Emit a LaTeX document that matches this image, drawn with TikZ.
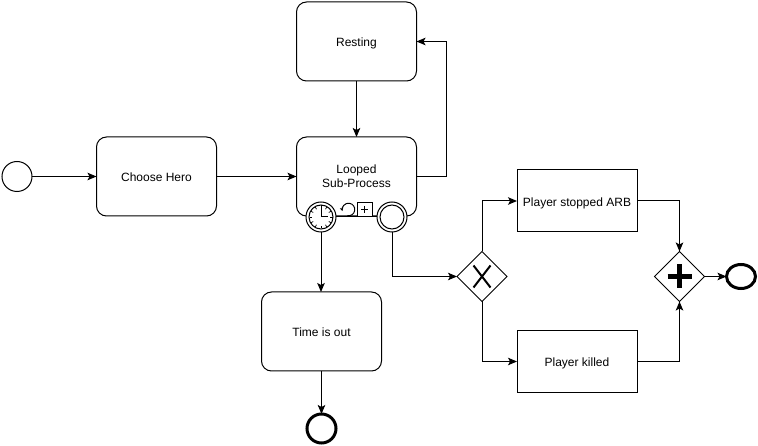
\documentclass[tikz,border=0pt]{standalone}
\usepackage{fontspec}
\setmainfont{Liberation Sans}
\usetikzlibrary{arrows.meta,shapes.geometric}
\tikzset{
  base/.style={draw=black,line width=1pt,outer sep=0pt,inner sep=0pt,fill=white},
  roundtask/.style={base,rectangle,rounded corners=10pt,minimum width=120pt,minimum height=79pt,align=center,font=\fontsize{12}{14}\selectfont},
  sharptask/.style={base,rectangle,minimum width=120pt,minimum height=62pt,align=center,font=\fontsize{12}{14}\selectfont},
  oneline/.style={text height=10.5pt,text depth=0pt},
  startev/.style={base,circle,minimum size=30pt},
  endev/.style={base,circle,line width=3pt,minimum size=29pt},
  gate/.style={base,diamond,minimum width=50pt,minimum height=50pt,aspect=1},
  attached/.style={base,circle,minimum size=30pt},
  flow/.style={draw=black,line width=1pt,-{Stealth[length=9pt,width=7.5pt,inset=2pt]}},
}
\begin{document}
\begin{tikzpicture}[x=1pt,y=-1pt]
\useasboundingbox (0,0) rectangle (758,446);
\fill[white] (0,0) rectangle (758,446);
\node[startev] (start) at (17,176.5) {};
\node[roundtask,oneline] (hero) at (156.5,176.5) {Choose Hero};
\node[roundtask,oneline] (rest) at (356.5,41.5) {Resting};
\node[roundtask,text height=23pt,text depth=0pt] (loop) at (356.5,176.5) {Looped\\Sub-Process};
\node[roundtask,oneline] (timeout) at (321.5,331.5) {Time is out};
\node[endev] (endb) at (321.5,428.5) {};
\node[sharptask,oneline] (stopped) at (577,201) {Player stopped ARB};
\node[sharptask,oneline] (killed) at (577,361.5) {Player killed};
\node[gate] (xor) at (482,276.5) {};
\node[gate] (par) at (679.5,276.5) {};
\node[endev,ellipse,minimum width=29pt,minimum height=24pt] (endr) at (741,276.5) {};
% sub-process markers
\node[base,rectangle,minimum width=15pt,minimum height=14pt] (plus) at (364.5,209.5) {};
\draw[line width=1pt] (361,209.5) -- (368,209.5) (364.5,206) -- (364.5,213);
% boundary events
\node[attached] (timer) at (321,217) {};
\node[attached] (bound) at (392,217) {};
\draw[line width=1pt] (timer.east) -- (bound.west);
\node[base,circle,minimum size=24pt] (timerin) at (321,217) {};
\node[base,circle,minimum size=24pt] (boundin) at (392,217) {};
\draw[line width=1pt,-{Stealth[length=3.5pt,width=3.5pt]}] (347.4,215.7) arc[start angle=-100,end angle=195,radius=6.3pt];
\foreach \a in {0,30,...,330}
  \draw[line width=.7pt] (321,217) ++(\a:11.5) -- ++(\a:-2.5);
\draw[line width=1pt] (321,206) -- (321,217) -- (328,217);
% gateway marks
\draw[line width=2pt] (473.5,265.5) -- (490.5,287.5) (490.5,265.5) -- (473.5,287.5);
\draw[line width=4.5pt] (667.5,276.5) -- (691.5,276.5) (679.5,264.5) -- (679.5,288.5);
% flows
\draw[flow] (start) -- (hero);
\draw[flow] (hero) -- (loop);
\draw[flow] (rest) -- (loop);
\draw[flow] (loop.east) -- ++(30,0) |- (rest.east);
\draw[flow] (timer.south) -- (timeout.north -| timer.south);
\draw[flow] (timeout.south -| endb.north) -- (endb.north);
\draw[flow] (bound.south) |- (xor.west);
\draw[flow] (xor.north) |- (stopped.west);
\draw[flow] (xor.south) |- (killed.west);
\draw[flow] (stopped.east) -| (par.north);
\draw[flow] (killed.east) -| (par.south);
\draw[flow] (par.east) -- (endr.west);
\end{tikzpicture}
\end{document}
